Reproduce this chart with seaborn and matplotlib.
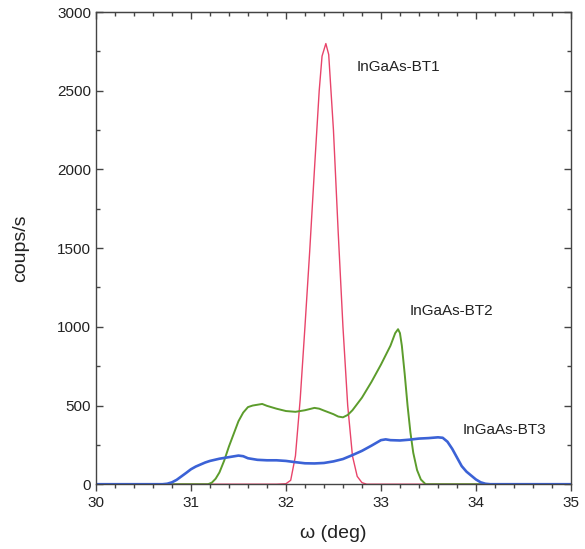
import matplotlib
matplotlib.use("Agg")
import matplotlib.pyplot as plt
from matplotlib.ticker import MultipleLocator
import pandas as pd
import seaborn as sns

# Rocking curves (omega scans) of three InGaAs buffer layers
omega_bt1 = [30.0, 31.9, 32.0, 32.05, 32.1, 32.15, 32.2, 32.25, 32.3, 32.35, 32.38,
             32.42, 32.45, 32.5, 32.55, 32.6, 32.65, 32.7, 32.75, 32.8, 32.85, 35.0]
counts_bt1 = [0, 0, 3, 25, 180, 540, 1000, 1480, 2000, 2500, 2720,
              2800, 2730, 2250, 1600, 1000, 500, 180, 50, 10, 0, 0]

omega_bt2 = [30.0, 31.18, 31.22, 31.26, 31.3, 31.35, 31.4, 31.45, 31.5, 31.55, 31.6,
             31.65, 31.7, 31.75, 31.8, 31.9, 32.0, 32.1, 32.2, 32.3, 32.35, 32.4,
             32.5, 32.55, 32.6, 32.65, 32.7, 32.8, 32.9, 33.0, 33.05, 33.1, 33.15,
             33.18, 33.2, 33.22, 33.25, 33.28, 33.31, 33.34, 33.38, 33.42, 33.47, 35.0]
counts_bt2 = [0, 0, 10, 35, 75, 150, 240, 320, 400, 455, 490,
              500, 505, 510, 498, 480, 465, 460, 470, 485, 480, 468,
              445, 430, 425, 440, 470, 550, 650, 760, 820, 880, 960,
              985, 960, 880, 700, 500, 330, 200, 90, 30, 0, 0]

omega_bt3 = [30.0, 30.7, 30.75, 30.8, 30.85, 30.9, 30.95, 31.0, 31.05, 31.1, 31.15,
             31.2, 31.3, 31.4, 31.5, 31.55, 31.6, 31.7, 31.8, 31.9, 32.0, 32.1,
             32.2, 32.3, 32.4, 32.5, 32.6, 32.7, 32.8, 32.9, 33.0, 33.05, 33.1,
             33.2, 33.3, 33.4, 33.5, 33.6, 33.65, 33.7, 33.75, 33.8, 33.85, 33.9,
             33.95, 34.0, 34.05, 34.1, 34.15, 35.0]
counts_bt3 = [0, 0, 3, 12, 28, 50, 72, 95, 112, 125, 138,
              148, 162, 172, 182, 178, 165, 155, 152, 152, 148, 140,
              133, 132, 135, 145, 160, 185, 212, 245, 280, 285, 280,
              278, 283, 290, 293, 298, 295, 270, 225, 170, 115, 80,
              55, 30, 12, 3, 0, 0]

sample_names = ["InGaAs-BT1", "InGaAs-BT2", "InGaAs-BT3"]
label_x = [32.74, 33.3, 33.86]
label_y = [2650, 1100, 345]

sns.set_style("ticks")
plt.rcParams["font.family"] = ["Liberation Sans", "DejaVu Sans"]

fig = plt.figure(figsize=(5.85, 5.49), dpi=100)
ax = fig.add_axes([0.164, 0.118, 0.812, 0.860])

curves = [
    (omega_bt1, counts_bt1, "#e8446a", 1.0),
    (omega_bt2, counts_bt2, "#5c9c2c", 1.4),
    (omega_bt3, counts_bt3, "#3b62d6", 1.9),
]
for (om, ct, color, lw), name in zip(curves, sample_names):
    df = pd.DataFrame({"omega": om, "counts": ct})
    sns.lineplot(data=df, x="omega", y="counts", ax=ax, color=color,
                 linewidth=lw, sort=False, estimator=None)

for name, lx, ly in zip(sample_names, label_x, label_y):
    ax.text(lx, ly, name, fontsize=11, color="#222222", va="center", ha="left")

ax.set_xlim(30, 35)
ax.set_ylim(0, 3000)
ax.xaxis.set_major_locator(MultipleLocator(1))
ax.xaxis.set_minor_locator(MultipleLocator(0.2))
ax.yaxis.set_major_locator(MultipleLocator(500))
ax.yaxis.set_minor_locator(MultipleLocator(250))

edge = "#444444"
for side in ["left", "right", "top", "bottom"]:
    ax.spines[side].set_visible(True)
    ax.spines[side].set_color(edge)
    ax.spines[side].set_linewidth(1.0)

ax.tick_params(axis="x", which="both", direction="out", bottom=True, top=False,
               colors=edge, labelcolor="#222222", labelsize=11)
ax.tick_params(axis="y", which="both", direction="in", left=True, right=True,
               colors=edge, labelcolor="#222222", labelsize=11)
ax.tick_params(which="major", length=5, width=1)
ax.tick_params(which="minor", length=3, width=1)

# inward ticks along the top edge
top = ax.secondary_xaxis("top")
top.xaxis.set_major_locator(MultipleLocator(1))
top.xaxis.set_minor_locator(MultipleLocator(0.2))
top.tick_params(which="both", direction="in", labeltop=False, colors=edge)
top.tick_params(which="major", length=5, width=1)
top.tick_params(which="minor", length=3, width=1)
top.spines["top"].set_color(edge)

ax.set_xlabel("ω (deg)", fontsize=14, color="#222222", labelpad=11)
ax.set_ylabel("coups/s", fontsize=14, color="#222222", labelpad=20)

fig.savefig("out.png", dpi=100)
